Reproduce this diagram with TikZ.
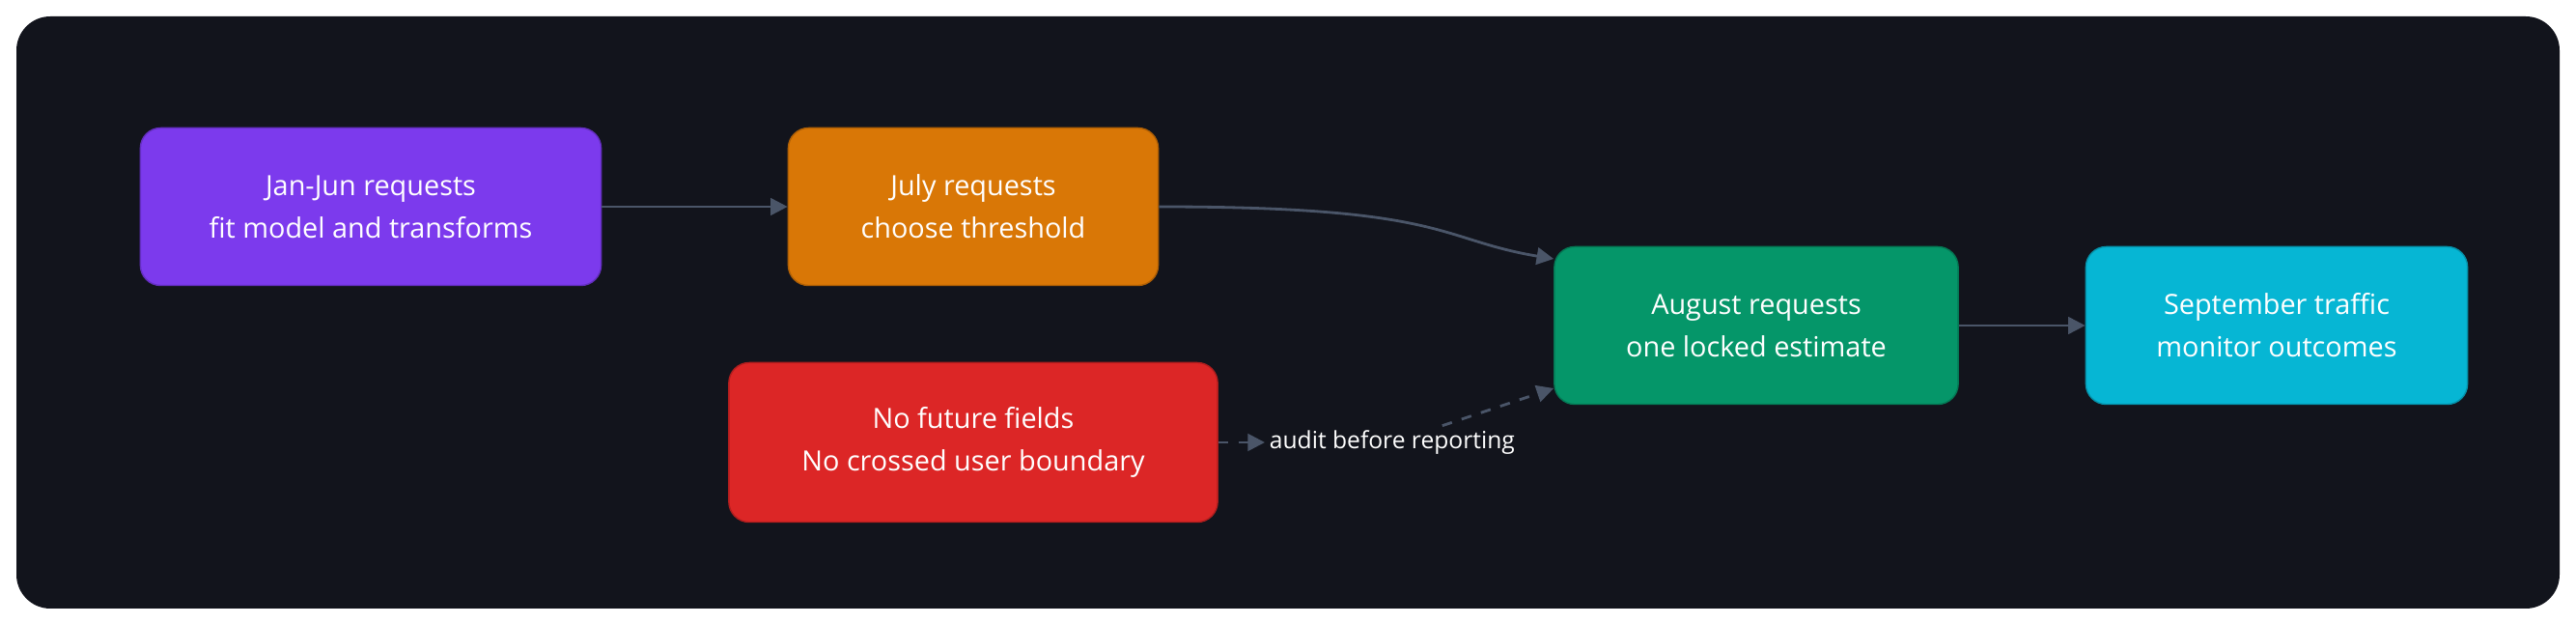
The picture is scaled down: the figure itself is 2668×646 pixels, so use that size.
\documentclass[tikz,border=0pt]{standalone}
\usepackage{fontspec}
\setmainfont{Open Sans}
\usetikzlibrary{arrows.meta,positioning}
\definecolor{panel}{HTML}{12141C}
\definecolor{edge}{HTML}{4A5568}
\definecolor{jan}{HTML}{7C3AED}
\definecolor{july}{HTML}{D97706}
\definecolor{aug}{HTML}{059669}
\definecolor{sept}{HTML}{06B6D4}
\definecolor{rule}{HTML}{DC2626}
\begin{document}
\begin{tikzpicture}[x=0.01cm, y=-0.01cm,
  box/.style={draw=#1!80!black, fill=#1, rounded corners=6pt, text=white,
    align=center, font=\fontsize{8.2}{12.5}\selectfont, minimum height=1.63cm, inner sep=0pt},
  flow/.style={draw=edge, thick, -{Triangle[length=5pt,width=5pt]}}]
  \useasboundingbox (0,0) rectangle (2668,646);
  \fill[white] (0,0) rectangle (2668,646);
  \fill[panel, rounded corners=10pt] (17,17) rectangle (2651,630);

  %stages
  \node[box=jan, minimum width=4.77cm] (janjun) at (384,214) {Jan-Jun requests\\fit model and transforms};
  \node[box=july, minimum width=3.83cm] (july) at (1008,214) {July requests\\choose threshold};
  \node[box=aug, minimum width=4.18cm] (august) at (1819,337) {August requests\\one locked estimate};
  \node[box=sept, minimum width=3.95cm] (september) at (2358,337) {September traffic\\monitor outcomes};
  \node[box=rule, minimum width=5.06cm, minimum height=1.65cm] (rules) at (1008,458) {No future fields\\No crossed user boundary};

  \draw[flow] (janjun) -- (july);
  \draw[flow] (july.east) .. controls +(300,0) and +(-120,-20) .. (august.north west |- 0,268);
  \draw[flow] (august) -- (september);
  \draw[flow, dashed] (rules.east) -- (1310,458)
    node[fill=panel, text=white, font=\fontsize{7}{8}\selectfont, inner sep=1pt, right] (audit) {audit before reporting};
  \draw[flow, dashed] (audit.north east) ++(-80,0) -- (august.south west |- 0,402);
\end{tikzpicture}
\end{document}
